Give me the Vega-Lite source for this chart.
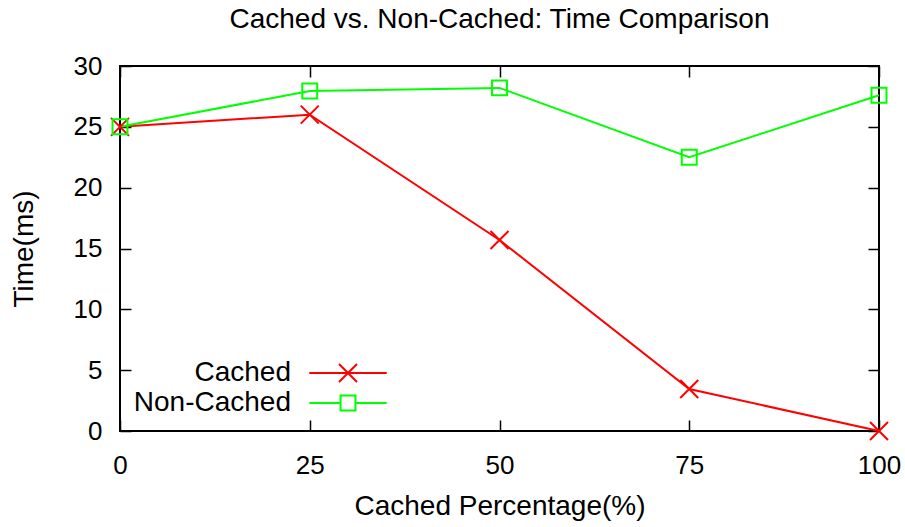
{
  "$schema": "https://vega.github.io/schema/vega-lite/v6.json",
  "autosize": "none",
  "width": 759,
  "height": 365,
  "padding": {"left": 120, "top": 66, "right": 26, "bottom": 96},
  "background": "white",
  "config": {
    "font": "Liberation Sans",
    "view": {"stroke": "black", "strokeWidth": 2},
    "axis": {"grid": false, "domain": false, "labelFlush": false, "tickColor": "black", "tickWidth": 1.5, "tickSize": -11, "labelColor": "black", "titleColor": "black", "labelFont": "Liberation Sans", "titleFont": "Liberation Sans", "labelFontSize": 26, "titleFontSize": 28, "titleFontWeight": "normal"}
  },
  "title": {"text": "Cached vs. Non-Cached: Time Comparison", "fontSize": 28, "fontWeight": "normal", "font": "Liberation Sans", "color": "black", "offset": 19},
  "data": {"values": [
    {"series": "Cached", "pct": 0, "time": 25.0},
    {"series": "Cached", "pct": 25, "time": 26.0},
    {"series": "Cached", "pct": 50, "time": 15.7},
    {"series": "Cached", "pct": 75, "time": 3.45},
    {"series": "Cached", "pct": 100, "time": 0.0},
    {"series": "Non-Cached", "pct": 0, "time": 25.0},
    {"series": "Non-Cached", "pct": 25, "time": 27.95},
    {"series": "Non-Cached", "pct": 50, "time": 28.2},
    {"series": "Non-Cached", "pct": 75, "time": 22.5},
    {"series": "Non-Cached", "pct": 100, "time": 27.6}
  ]},
  "resolve": {"axis": {"x": "independent", "y": "independent"}},
  "layer": [
    {
      "mark": {"type": "line", "strokeWidth": 2},
      "encoding": {
        "x": {"field": "pct", "type": "quantitative", "scale": {"domain": [0, 100], "nice": false}, "axis": {"values": [0, 25, 50, 75, 100], "title": "Cached Percentage(%)", "labelPadding": 32, "titlePadding": 14}},
        "y": {"field": "time", "type": "quantitative", "scale": {"domain": [0, 30], "nice": false}, "axis": {"values": [0, 5, 10, 15, 20, 25, 30], "title": "Time(ms)", "labelPadding": 29, "titlePadding": 35}},
        "color": {"field": "series", "type": "nominal", "scale": {"domain": ["Cached", "Non-Cached"], "range": ["#ff0000", "#00ff00"]},
          "legend": {"orient": "none", "legendX": 214, "legendY": 293, "title": null, "symbolSize": 324, "symbolStrokeWidth": 2, "symbolFillColor": "transparent", "labelFontSize": 28, "labelColor": "black", "labelAlign": "right", "labelOffset": -71, "rowPadding": 2, "padding": 0,
            "encode": {"symbols": {"update": {"shape": {"signal": "datum.value === 'Cached' ? 'M-4.3,0H4.3M-1,-1L1,1M-1,1L1,-1' : 'M-4.3,0H-0.83M0.83,0H4.3M-0.83,-0.83H0.83V0.83H-0.83Z'"}, "fill": {"value": "transparent"}}}}}}
      }
    },
    {
      "transform": [{"filter": "datum.series === 'Cached'"}],
      "mark": {"type": "point", "filled": false, "strokeWidth": 2, "size": 324, "opacity": 1, "shape": "M-1,-1L1,1M-1,1L1,-1", "color": "#ff0000"},
      "encoding": {
        "x": {"field": "pct", "type": "quantitative", "axis": null},
        "y": {"field": "time", "type": "quantitative", "axis": null}
      }
    },
    {
      "transform": [{"filter": "datum.series === 'Non-Cached'"}],
      "mark": {"type": "point", "filled": false, "strokeWidth": 2, "size": 324, "opacity": 1, "shape": "M-0.83,-0.83H0.83V0.83H-0.83Z", "color": "#00ff00"},
      "encoding": {
        "x": {"field": "pct", "type": "quantitative", "axis": null},
        "y": {"field": "time", "type": "quantitative", "axis": null}
      }
    },
    {
      "mark": {"type": "point", "opacity": 0},
      "encoding": {
        "x": {"field": "pct", "type": "quantitative", "axis": {"orient": "top", "values": [0, 25, 50, 75, 100], "labels": false, "title": null}},
        "y": {"field": "time", "type": "quantitative", "axis": {"orient": "right", "values": [0, 5, 10, 15, 20, 25, 30], "labels": false, "title": null}}
      }
    }
  ]
}
